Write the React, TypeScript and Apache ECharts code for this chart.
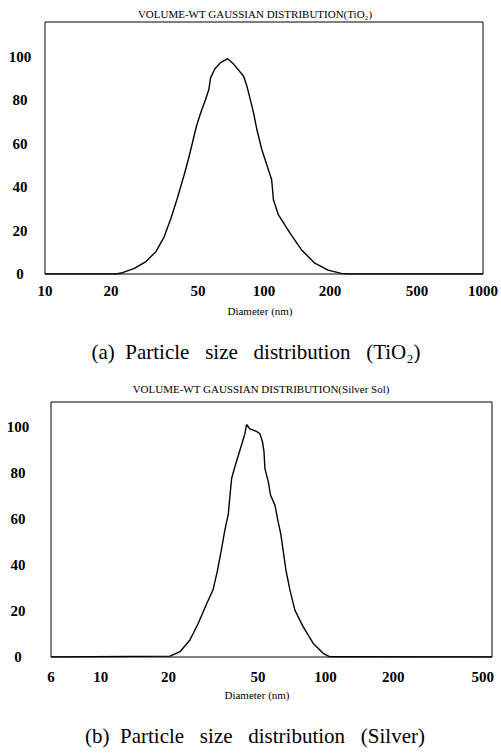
import React, { useEffect, useRef } from "react";
import * as echarts from "echarts";

// (a) TiO2 volume-weighted distribution
const tioDiameter = [10, 21.1, 22.6, 25.6, 28.9, 32.1, 35.0, 37.6, 40.2, 43.2, 45.1, 47.1, 49.1, 51.4, 54.1, 56.0, 57.0, 59.7, 63.3, 68.3, 72.8, 80.7, 83.6, 86.6, 89.6, 92.8, 97.7, 101.2, 108.4, 110.4, 116.4, 131.5, 148.4, 170.6, 196.2, 225.3, 241, 1000];
const tioVolume = [0, 0, 0.6, 2.6, 5.7, 10.3, 17.1, 25.7, 34.9, 45.7, 52.6, 60.3, 67.9, 74.2, 80.3, 84.9, 90.3, 94.5, 97.3, 99.1, 96.5, 91.0, 86.4, 80.3, 74.2, 66.5, 57.3, 52.6, 43.4, 34.2, 27.2, 18.8, 11.1, 5.0, 1.8, 0.3, 0, 0];

// (b) Silver sol volume-weighted distribution
const agDiameter = [6, 20.3, 22.5, 24.9, 27.1, 29.6, 31.6, 33.0, 34.5, 35.6, 36.9, 37.5, 38.2, 39.5, 41.6, 43.7, 44.5, 46.0, 49.3, 51.0, 52.4, 53.2, 53.7, 55.6, 56.9, 59.5, 61.5, 63.1, 64.7, 66.6, 69.4, 73.0, 79.4, 88.1, 97.5, 104.5, 550];
const agVolume = [0, 0.4, 2.3, 7.4, 14.6, 23.3, 29.4, 37.5, 47.5, 55.1, 62.2, 69.8, 77.8, 82.9, 90.1, 97.0, 101.2, 99.3, 98.2, 97.2, 93.6, 89.3, 82.0, 76.2, 70.4, 66.1, 58.8, 53.8, 46.5, 37.8, 29.1, 20.4, 13.2, 5.9, 1.6, 0.1, 0];

const tioXTicks = [10, 20, 50, 100, 200, 500, 1000];
const agXTicks = [6, 10, 20, 50, 100, 200, 500];
const yTicks = [0, 20, 40, 60, 80, 100];

const titleA = "VOLUME-WT GAUSSIAN DISTRIBUTION(TiO₂)";
const titleB = "VOLUME-WT GAUSSIAN DISTRIBUTION(Silver Sol)";
const xName = "Diameter (nm)";
const captionA = "(a)  Particle   size   distribution   (TiO₂)";
const captionB = "(b)  Particle   size   distribution   (Silver)";

const SERIF = "Liberation Serif";

export default function App() {
  const ref = useRef<HTMLDivElement>(null);
  useEffect(() => {
    if (!ref.current) return;
    const chart = echarts.init(ref.current, undefined, { renderer: "svg" });
    const tickLabel = {
      color: "#000",
      fontFamily: SERIF,
      fontWeight: "bold" as const,
      fontSize: 15,
    };
    const xAxisBase = (min: number, max: number, ticks: number[], margin: number, gridIndex: number) => ({
      type: "log" as const,
      gridIndex,
      min,
      max,
      logBase: 10,
      axisLine: { show: false },
      axisTick: { show: false },
      splitLine: { show: false },
      axisLabel: { ...tickLabel, margin, customValues: ticks, formatter: (v: number) => String(Math.round(v)) },
    });
    const yAxisBase = (max: number, margin: number, gridIndex: number) => ({
      type: "value" as const,
      gridIndex,
      min: 0,
      max,
      interval: 20,
      axisLine: { show: false },
      axisTick: { show: false },
      splitLine: { show: false },
      axisLabel: { ...tickLabel, margin, align: "center" as const, customValues: yTicks },
    });
    const text = (str: string, x: number, y: number, size: number) => ({
      type: "text" as const,
      x,
      y,
      style: {
        text: str,
        fill: "#000",
        fontFamily: SERIF,
        fontSize: size,
        textAlign: "center" as const,
        textVerticalAlign: "middle" as const,
      },
    });
    chart.setOption({
      animation: false,
      backgroundColor: "#fff",
      grid: [
        { left: 45, right: 15, top: 22, height: 252, show: true, borderColor: "#000", borderWidth: 1, backgroundColor: "transparent" },
        { left: 51, right: 9, top: 402, height: 255, show: true, borderColor: "#000", borderWidth: 1, backgroundColor: "transparent" },
      ],
      xAxis: [xAxisBase(10, 1000, tioXTicks, 9, 0), xAxisBase(6, 550, agXTicks, 12, 1)],
      yAxis: [yAxisBase(116, 25, 0), yAxisBase(111, 33, 1)],
      series: [
        {
          type: "line",
          xAxisIndex: 0,
          yAxisIndex: 0,
          data: tioDiameter.map((d, i) => [d, tioVolume[i]]),
          showSymbol: false,
          lineStyle: { color: "#000", width: 1.4 },
        },
        {
          type: "line",
          xAxisIndex: 1,
          yAxisIndex: 1,
          data: agDiameter.map((d, i) => [d, agVolume[i]]),
          showSymbol: false,
          lineStyle: { color: "#000", width: 1.4 },
        },
      ],
      graphic: [
        text(titleA, 255, 14, 11),
        text(xName, 260, 311, 11),
        text(captionA, 256, 352, 21),
        text(titleB, 261, 389, 11),
        text(xName, 257, 695, 11),
        text(captionB, 255, 736, 21),
      ],
    });
    return () => chart.dispose();
  }, []);
  return <div ref={ref} style={{ position: "absolute", left: 0, top: 0, width: 501, height: 753 }} />;
}
